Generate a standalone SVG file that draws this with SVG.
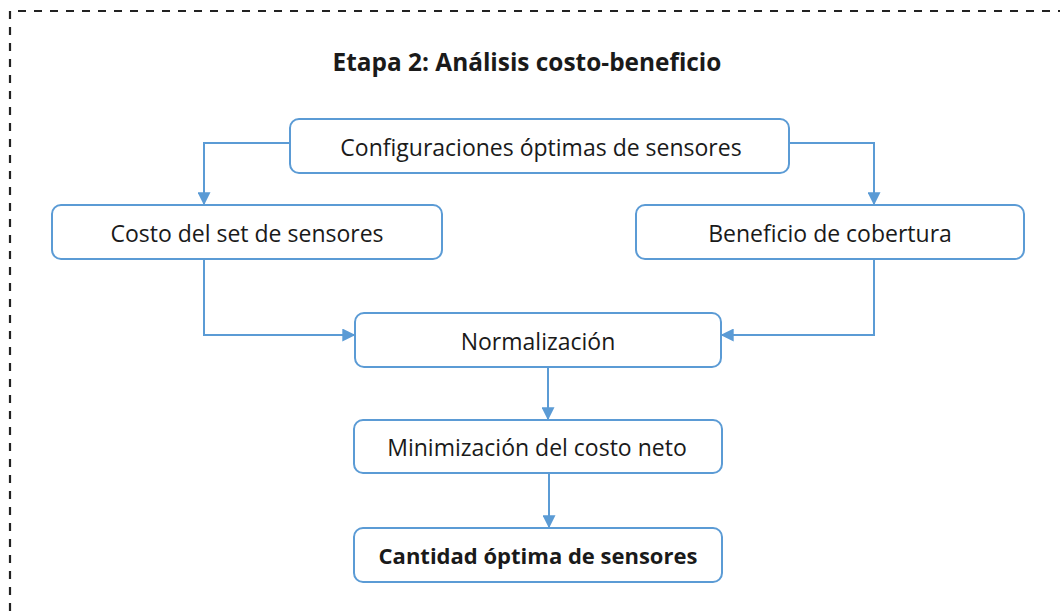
<svg xmlns="http://www.w3.org/2000/svg" width="1060" height="611" viewBox="0 0 1060 611">
<style>
.box{fill:#fff;stroke:#5B9BD5;stroke-width:2}
.t{font-family:"Open Sans","Liberation Sans",sans-serif;font-size:23px;fill:#1a1a1a;text-anchor:middle}
.b{font-weight:bold}
.c{fill:none;stroke:#5B9BD5;stroke-width:2}
</style>
<defs>
<marker id="ah" viewBox="0 0 10 10" refX="9" refY="5" markerWidth="13" markerHeight="13" markerUnits="userSpaceOnUse" orient="auto">
<path d="M0,0 L10,5 L0,10 z" fill="#5B9BD5"/>
</marker>
</defs>
<rect width="1060" height="611" fill="#fff"/>
<path d="M10,611 L10,11 L1060,11" fill="none" stroke="#222" stroke-width="2.2" stroke-dasharray="8,8"/>
<text class="t b" x="527" y="71" style="font-size:24.4px">Etapa 2: Análisis costo-beneficio</text>
<g id="connectors">
<path class="c" d="M290,143 H204 V204" marker-end="url(#ah)"/>
<path class="c" d="M789,143 H874 V204" marker-end="url(#ah)"/>
<path class="c" d="M204,259 V335 H354" marker-end="url(#ah)"/>
<path class="c" d="M874,259 V335 H722" marker-end="url(#ah)"/>
<path class="c" d="M548,367 V419" marker-end="url(#ah)"/>
<path class="c" d="M549,473 V527" marker-end="url(#ah)"/>
</g>
<g id="config"><rect class="box" x="290" y="119" width="499" height="54" rx="9"/><text class="t" x="541" y="156">Configuraciones óptimas de sensores</text></g>
<g id="costo"><rect class="box" x="52" y="205" width="390" height="54" rx="9"/><text class="t" x="247" y="242">Costo del set de sensores</text></g>
<g id="beneficio"><rect class="box" x="636" y="205" width="388" height="54" rx="9"/><text class="t" x="830" y="242">Beneficio de cobertura</text></g>
<g id="normalizacion"><rect class="box" x="355" y="313" width="366" height="54" rx="9"/><text class="t" x="538" y="350">Normalización</text></g>
<g id="minimizacion"><rect class="box" x="354" y="420" width="368" height="53" rx="9"/><text class="t" x="537" y="456">Minimización del costo neto</text></g>
<g id="cantidad"><rect class="box" x="354" y="528" width="368" height="54" rx="9"/><text class="t b" x="538" y="564" style="font-size:22px">Cantidad óptima de sensores</text></g>
</svg>
